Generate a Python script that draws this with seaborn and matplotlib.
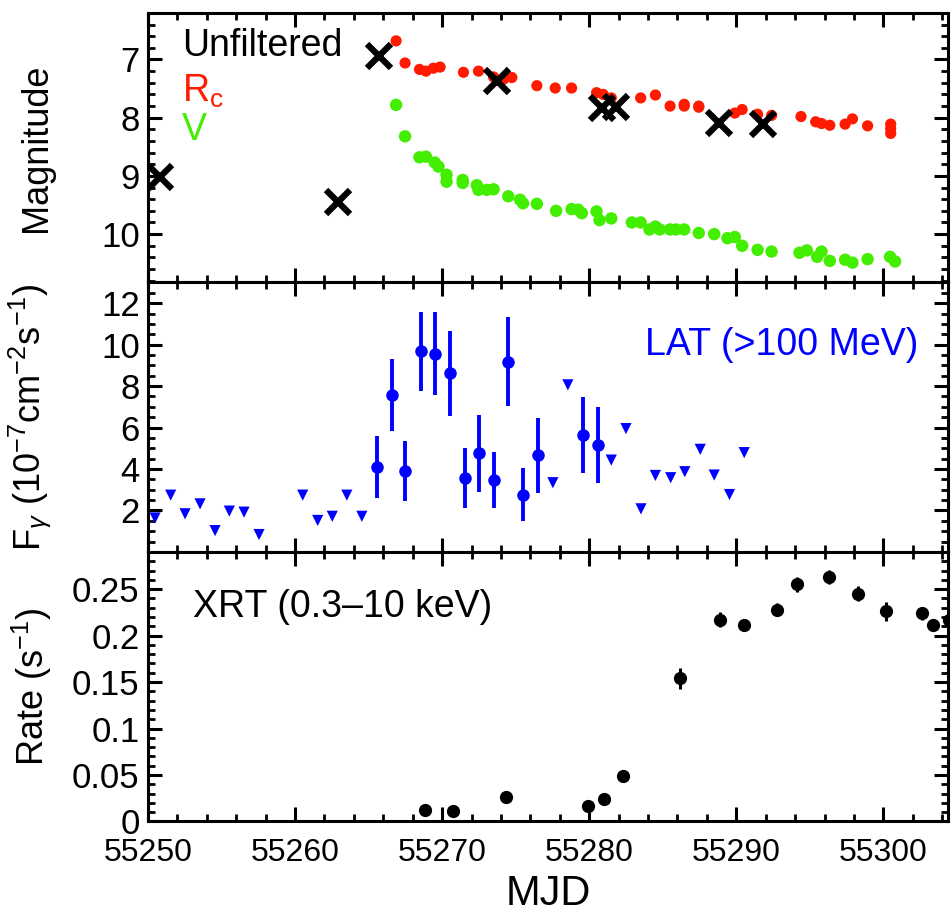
import numpy as np
import pandas as pd
import matplotlib
matplotlib.use('Agg')
import matplotlib.pyplot as plt
from matplotlib.ticker import MultipleLocator
import seaborn as sns

# ---- optical: unfiltered (crosses)
unf_mjd = [55250.8, 55262.95, 55265.7, 55273.7, 55280.86, 55281.84, 55288.84, 55291.8]
unf_mag = [9.02, 9.44, 6.94, 7.37, 7.84, 7.81, 8.09, 8.10]

# ---- optical: Rc band
rc_mjd = [55266.87, 55267.48, 55268.46, 55268.9, 55269.4, 55269.86, 55271.45, 55272.47,
          55273.5, 55274.17, 55274.74, 55276.44, 55277.69, 55278.8, 55280.5, 55280.95,
          55281.5, 55283.5, 55284.5, 55285.5, 55286.46, 55286.46, 55287.45, 55287.45,
          55289.9, 55290.4, 55291.45, 55292.4, 55294.4, 55295.4, 55295.8, 55296.36,
          55297.4, 55297.9, 55298.93, 55300.5, 55300.5, 55300.5]
rc_mag = [6.68, 7.06, 7.17, 7.20, 7.15, 7.13, 7.22, 7.20,
          7.30, 7.34, 7.31, 7.45, 7.49, 7.49, 7.57, 7.60,
          7.66, 7.66, 7.61, 7.80, 7.77, 7.80, 7.80, 7.82,
          7.92, 7.86, 7.94, 7.96, 7.98, 8.07, 8.10, 8.13,
          8.11, 8.02, 8.14, 8.11, 8.19, 8.27]

# ---- optical: V band
v_mjd = [55266.87, 55267.48, 55268.46, 55268.9, 55269.5, 55269.75, 55270.3, 55270.3,
         55271.4, 55271.4, 55272.36, 55272.47, 55273.04, 55273.5, 55274.5, 55275.3,
         55275.5, 55276.44, 55277.75, 55278.8, 55279.25, 55279.5, 55280.5, 55280.7,
         55281.5, 55282.9, 55283.5, 55284.1, 55284.5, 55284.8, 55285.5, 55285.9,
         55286.46, 55287.45, 55288.5, 55289.4, 55289.9, 55290.4, 55291.45, 55292.4,
         55294.3, 55294.8, 55295.5, 55295.8, 55296.36, 55297.4, 55297.9, 55298.93,
         55300.46, 55300.8]
v_mag = [7.78, 8.32, 8.68, 8.67, 8.77, 8.84, 8.98, 9.10,
         9.07, 9.12, 9.16, 9.24, 9.24, 9.23, 9.35, 9.41,
         9.47, 9.48, 9.60, 9.57, 9.58, 9.64, 9.61, 9.76,
         9.73, 9.80, 9.80, 9.92, 9.87, 9.92, 9.92, 9.92,
         9.92, 9.98, 10.00, 10.07, 10.05, 10.20, 10.27, 10.30,
         10.32, 10.28, 10.39, 10.30, 10.46, 10.44, 10.49, 10.43,
         10.39, 10.47]

# ---- LAT detections
lat_mjd = [55265.56, 55266.58, 55267.5, 55268.55, 55269.52, 55270.54, 55271.56,
           55272.53, 55273.53, 55274.5, 55275.53, 55276.55, 55279.55, 55280.57]
lat_flux = [4.1, 7.58, 3.9, 9.67, 9.55, 8.63, 3.58, 4.76, 3.47, 9.17, 2.77, 4.66, 5.64, 5.14]
lat_err = [1.5, 1.75, 1.45, 1.9, 2.0, 2.05, 1.45, 1.85, 1.37, 2.15, 1.28, 1.8, 1.83, 1.83]

# ---- LAT upper limits
ul_mjd = [55250.48, 55251.54, 55252.52, 55253.54, 55254.56, 55255.53, 55256.53, 55257.55,
          55260.52, 55261.54, 55262.53, 55263.52, 55264.54, 55277.53, 55278.55, 55281.5,
          55282.5, 55283.52, 55284.5, 55285.54, 55286.5, 55287.55, 55288.5, 55289.54,
          55290.54]
ul_flux = [1.64, 2.74, 1.84, 2.32, 1.03, 1.97, 1.92, 0.84,
           2.74, 1.52, 1.72, 2.74, 1.72, 3.34, 8.06, 4.43,
           5.95, 2.08, 3.69, 3.58, 3.87, 4.95, 3.71, 2.77,
           4.79]

# ---- XRT count rate
xrt_mjd = [55268.84, 55270.77, 55274.35, 55279.9, 55281.04, 55282.27, 55286.2, 55288.9,
           55290.5, 55292.76, 55294.1, 55296.3, 55298.28, 55300.2, 55302.6, 55303.4, 55304.45]
xrt_rate = [0.0124, 0.0113, 0.0266, 0.017, 0.024, 0.049, 0.154, 0.217,
            0.211, 0.228, 0.255, 0.263, 0.245, 0.226, 0.224, 0.211, 0.217]
xrt_err = [0.003, 0.003, 0.004, 0.004, 0.004, 0.006, 0.011, 0.008,
           0.006, 0.007, 0.008, 0.008, 0.008, 0.010, 0.007, 0.005, 0.008]

sns.set_theme(style='ticks')
plt.rcParams['font.family'] = ['Liberation Sans', 'DejaVu Sans']
plt.rcParams['mathtext.fontset'] = 'custom'
plt.rcParams['mathtext.rm'] = 'Liberation Sans'
plt.rcParams['mathtext.it'] = 'Liberation Sans:italic'
plt.rcParams['mathtext.cal'] = 'Liberation Sans'
plt.rcParams['text.color'] = 'black'
plt.rcParams['axes.labelcolor'] = 'black'
plt.rcParams['xtick.color'] = 'black'
plt.rcParams['ytick.color'] = 'black'
plt.rcParams['xtick.labelcolor'] = 'black'
plt.rcParams['ytick.labelcolor'] = 'black'

BLUE = '#0000ff'
RED = '#ff1a00'
GREEN = '#44ee00'

fig, axes = plt.subplots(3, 1, figsize=(9.53, 9.23), dpi=100, sharex=True)
fig.subplots_adjust(left=0.1553, right=0.9948, top=0.986, bottom=0.11, hspace=0)
ax1, ax2, ax3 = axes

# top panel: optical magnitudes
rc_df = pd.DataFrame({'MJD': rc_mjd, 'mag': rc_mag})
v_df = pd.DataFrame({'MJD': v_mjd, 'mag': v_mag})
sns.scatterplot(data=rc_df, x='MJD', y='mag', ax=ax1, color=RED, s=65,
                edgecolor='none', zorder=2)
sns.scatterplot(data=v_df, x='MJD', y='mag', ax=ax1, color=GREEN, s=80,
                edgecolor='none', zorder=2)
ax1.plot(unf_mjd, unf_mag, ls='none', marker='x', ms=17, mew=4.5, color='black', zorder=3)
ax1.set_ylim(10.83, 6.2)
ax1.yaxis.set_major_locator(MultipleLocator(1))
ax1.yaxis.set_minor_locator(MultipleLocator(0.2))
ax1.set_ylabel('Magnitude')
ax1.text(0.0425, 0.877, 'Unfiltered', transform=ax1.transAxes, fontsize=27,
         color='black', va='center', ha='left')
ax1.text(0.0425, 0.71, r'R$_\mathregular{c}$', transform=ax1.transAxes, fontsize=27,
         color=RED, va='center', ha='left')
ax1.text(0.0425, 0.565, 'V', transform=ax1.transAxes, fontsize=27,
         color=GREEN, va='center', ha='left')

# middle panel: LAT fluxes
ax2.errorbar(lat_mjd, lat_flux, yerr=lat_err, fmt='o', color=BLUE, ms=8,
             elinewidth=2.8, capsize=0, zorder=3)
ul_df = pd.DataFrame({'MJD': ul_mjd, 'flux': ul_flux})
sns.scatterplot(data=ul_df, x='MJD', y='flux', ax=ax2, marker='v', color=BLUE,
                s=65, edgecolor='none', zorder=3)
ax2.set_ylim(0, 13)
ax2.yaxis.set_major_locator(MultipleLocator(2))
ax2.yaxis.set_minor_locator(MultipleLocator(0.5))
ax2.set_yticks([2, 4, 6, 8, 10, 12])
ax2.set_ylabel(r'F$_\gamma$ (10$^{-7}$cm$^{-2}$s$^{-1}$)')
ax2.text(0.9625, 0.767, 'LAT (>100 MeV)', transform=ax2.transAxes, fontsize=27,
         color=BLUE, va='center', ha='right')

# bottom panel: XRT rate
ax3.errorbar(xrt_mjd, xrt_rate, yerr=xrt_err, fmt='o', color='black', ms=8.5,
             elinewidth=2.2, capsize=0, zorder=3, clip_on=True)
ax3.set_ylim(0, 0.29)
ax3.yaxis.set_major_locator(MultipleLocator(0.05))
ax3.yaxis.set_minor_locator(MultipleLocator(0.01))
ax3.set_yticks([0, 0.05, 0.1, 0.15, 0.2, 0.25])
ax3.set_yticklabels(['0', '0.05', '0.1', '0.15', '0.2', '0.25'])
ax3.set_ylabel(r'Rate (s$^{-1}$)')
ax3.text(0.056, 0.795, 'XRT (0.3\u201310 keV)', transform=ax3.transAxes, fontsize=27,
         color='black', va='center', ha='left')

ax3.set_xlim(55250, 55304.4)
ax3.xaxis.set_major_locator(MultipleLocator(10))
ax3.xaxis.set_minor_locator(MultipleLocator(2))
ax3.xaxis.set_major_formatter(plt.FuncFormatter(lambda v, p: f'{v:.0f}'))
ax3.set_xlabel('MJD', fontsize=30, labelpad=4)

for ax in axes:
    ax.tick_params(which='both', direction='in', top=True, right=True, color='black',
                   labelcolor='black')
    ax.tick_params(which='major', length=10, width=2.2)
    ax.tick_params(which='minor', length=5, width=2.0)
    ax.tick_params(axis='y', labelsize=25, pad=6)
    ax.tick_params(axis='x', labelsize=23, pad=12)
    for sp in ax.spines.values():
        sp.set_linewidth(2.2)
        sp.set_color('black')
        sp.set_visible(True)
    ax.yaxis.label.set_size(26)
    ax.yaxis.label.set_color('black')
    ax.yaxis.set_label_coords(-0.118, 0.5)
    ax.set_facecolor('white')
    if ax is not ax3:
        ax.set_xlabel('')
ax3.xaxis.label.set_color('black')

fig.savefig('out.png', dpi=100, facecolor='white')
